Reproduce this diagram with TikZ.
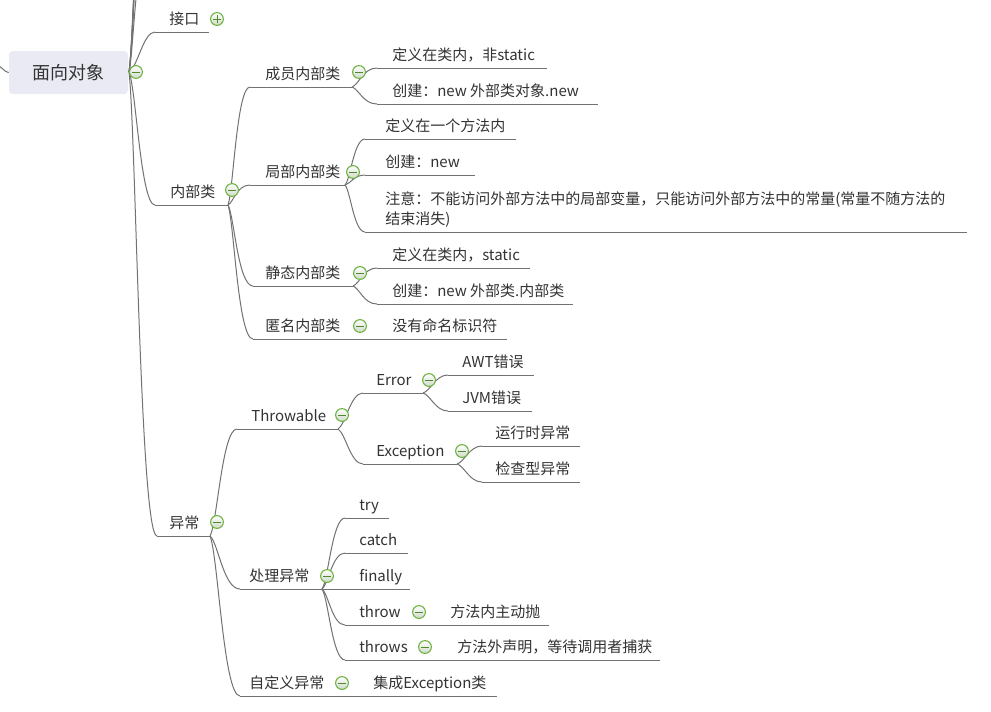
\documentclass[tikz,border=0pt]{standalone}
\usepackage{fontspec}
\setmainfont{Noto Sans CJK SC}
\usetikzlibrary{calc}
\definecolor{linec}{HTML}{727272}
\definecolor{txtc}{HTML}{333333}
\definecolor{rootfill}{HTML}{E9EAF3}
\definecolor{mkgreen}{HTML}{6BB33E}
\definecolor{mkdark}{HTML}{4F8A2C}
\definecolor{mkfill}{HTML}{CFD9C8}
\tikzset{
  conn/.style={draw=linec, line width=0.75pt},
  txt/.style={anchor=base west, inner sep=0pt, text=txtc, font=\fontsize{11.25}{15}\selectfont},
  rootbox/.style={rounded corners=3pt, fill=rootfill, minimum width=89.25pt, minimum height=32.25pt, inner sep=0pt, text=txtc, font=\fontsize{13.5}{16}\selectfont},
  mk/.style={circle, minimum size=9.6pt, inner sep=0pt, draw=mkgreen, line width=0.8pt, top color=white, bottom color=mkfill},
  minusmk/.style={mk, path picture={\draw[mkdark, line width=0.7pt] ([xshift=-2.8pt]path picture bounding box.center) -- ([xshift=2.8pt]path picture bounding box.center);}},
  plusmk/.style={mk, path picture={\draw[mkdark, line width=0.7pt] ([xshift=-2.8pt]path picture bounding box.center) -- ([xshift=2.8pt]path picture bounding box.center) ([yshift=-2.8pt]path picture bounding box.center) -- ([yshift=2.8pt]path picture bounding box.center);}}
}
% curved mind-map connector: [fraction]{parent}{child}
\newcommand\mmconn[3][0.45]{%
  \draw[conn] let \p1=(#2), \p2=(#3),
    \n1={\x1+0.6*#1*(\x2-\x1)},
    \n2={\y1+0.12*(\y2-\y1)},
    \n3={\x1+#1*(\x2-\x1)} in
    (\p1) .. controls ({\n1*1pt},{\n2*1pt}) and ({\n3*1pt},\y2) .. (\p2);}
% topic: name, start x, end x, underline y, text x, text
\newcommand\mmtopic[6]{%
  \coordinate (#1-s) at (#2,#4);
  \coordinate (#1-e) at (#3,#4);
  \node[txt] (#1) at (#5,#4-8) {#6};
  \draw[conn] (#1-s) -- (#1-e);}
\begin{document}
\begin{tikzpicture}[x=0.75pt,y=-0.75pt]
\useasboundingbox (0,0) rectangle (991,711);
\clip (0,0) rectangle (991,711);
\fill[white] (0,0) rectangle (991,711);

% root
\node[rootbox] (root) at (68.5,72.5) {面向对象};
\coordinate (R) at (129,72);
\coordinate (lp) at (-8,63);
\draw[conn] (lp) .. controls (3,66) and (4,72.5) .. (root.west);

% off-screen siblings above
\coordinate (up1) at (155,-80);
\coordinate (up2) at (155,-150);
\coordinate (up3) at (155,-230);
\coordinate (up4) at (155,-330);
\coordinate (up5) at (155,-450);
\mmconn[0.3]{R}{up1}
\mmconn[0.3]{R}{up2}
\mmconn[0.35]{R}{up3}
\mmconn[0.45]{R}{up4}
\mmconn[0.6]{R}{up5}

% level 1
\mmtopic{jk}{155}{209}{32}{169}{接口}
\mmtopic{nbl}{155}{228}{205}{170}{内部类}
\mmtopic{yc}{157}{210}{536}{169}{异常}
\mmconn[0.55]{R}{jk-s}
\mmconn[0.45]{R}{nbl-s}
\mmconn[0.4]{R}{yc-s}

% 内部类
\mmtopic{cy}{250}{352}{87}{265}{成员内部类}
\mmtopic{jb}{250}{345}{185}{265}{局部内部类}
\mmtopic{jt}{253}{353}{286}{265}{静态内部类}
\mmtopic{nm}{253}{353}{339}{265}{匿名内部类}
\mmconn[0.4]{nbl-e}{cy-s}
\mmconn[0.4]{nbl-e}{jb-s}
\mmconn[0.4]{nbl-e}{jt-s}
\mmconn[0.4]{nbl-e}{nm-s}

\mmtopic{cy1}{377}{547}{68}{392}{定义在类内，非static}
\mmtopic{cy2}{377}{598}{104}{392}{创建：new 外部类对象.new}
\mmconn{cy-e}{cy1-s}
\mmconn{cy-e}{cy2-s}

\mmtopic{jb1}{365}{516}{139}{385}{定义在一个方法内}
\mmtopic{jb2}{365}{475}{175}{385}{创建：new}
\coordinate (jb3-s) at (365,232);
\coordinate (jb3-e) at (967,232);
\node[txt, align=left] (jb3) at (385,224) {注意：不能访问外部方法中的局部变量，只能访问外部方法中的常量(常量不随方法的\\结束消失)};
\draw[conn] (jb3-s) -- (jb3-e);
\mmconn{jb-e}{jb1-s}
\mmconn{jb-e}{jb2-s}
\mmconn{jb-e}{jb3-s}

\mmtopic{jt1}{377}{530}{268}{392}{定义在类内，static}
\mmtopic{jt2}{377}{573}{304}{392}{创建：new 外部类.内部类}
\mmconn{jt-e}{jt1-s}
\mmconn{jt-e}{jt2-s}

\mmtopic{nm1}{353}{507}{339}{392}{没有命名标识符}
\draw[conn] (nm-e) -- (nm1-s);

% 异常
\mmtopic{tw}{237}{338}{429}{251}{Throwable}
\mmtopic{cl}{240}{322}{589}{249}{处理异常}
\mmtopic{zd}{240}{337}{696}{249}{自定义异常}
\mmconn{yc-e}{tw-s}
\mmconn{yc-e}{cl-s}
\mmconn{yc-e}{zd-s}

\mmtopic{er}{363}{423}{393}{376}{Error}
\mmtopic{ex}{363}{457}{464}{376}{Exception}
\mmconn[0.5]{tw-e}{er-s}
\mmconn[0.5]{tw-e}{ex-s}

\mmtopic{er1}{448}{534}{375}{462}{AWT错误}
\mmtopic{er2}{448}{532}{411}{462}{JVM错误}
\mmconn[0.5]{er-e}{er1-s}
\mmconn[0.5]{er-e}{er2-s}

\mmtopic{ex1}{482}{580}{446}{495}{运行时异常}
\mmtopic{ex2}{482}{580}{482}{495}{检查型异常}
\mmconn[0.5]{ex-e}{ex1-s}
\mmconn[0.5]{ex-e}{ex2-s}

\mmtopic{c1}{345}{389}{518}{359}{try}
\mmtopic{c2}{345}{408}{553}{359}{catch}
\mmtopic{c3}{322}{410}{589}{359}{finally}
\mmtopic{c4}{345}{414}{625}{359}{throw}
\mmtopic{c5}{345}{420}{660}{359}{throws}
\mmconn{cl-e}{c1-s}
\mmconn{cl-e}{c2-s}
\mmconn{cl-e}{c4-s}
\mmconn{cl-e}{c5-s}

\mmtopic{c41}{414}{549}{625}{450}{方法内主动抛}
\mmtopic{c51}{420}{660}{660}{457}{方法外声明，等待调用者捕获}
\mmtopic{zd1}{337}{497}{696}{373}{集成Exception类}

% markers
\node[minusmk] (mroot) at (136,72) {};
\node[plusmk] (mjk) at (217,19) {};
\node[minusmk] (mnbl) at (232,190) {};
\node[minusmk] (myc) at (217,522) {};
\node[minusmk] (mcy) at (359,72) {};
\node[minusmk] (mjb) at (353,172) {};
\node[minusmk] (mjt) at (360,273) {};
\node[minusmk] (mnm) at (360,326) {};
\node[minusmk] (mtw) at (342,415) {};
\node[minusmk] (mer) at (429,380) {};
\node[minusmk] (mex) at (462,451) {};
\node[minusmk] (mcl) at (327,576) {};
\node[minusmk] (mc4) at (419,612) {};
\node[minusmk] (mc5) at (425,647) {};
\node[minusmk] (mzd) at (342,683) {};
\end{tikzpicture}
\end{document}
